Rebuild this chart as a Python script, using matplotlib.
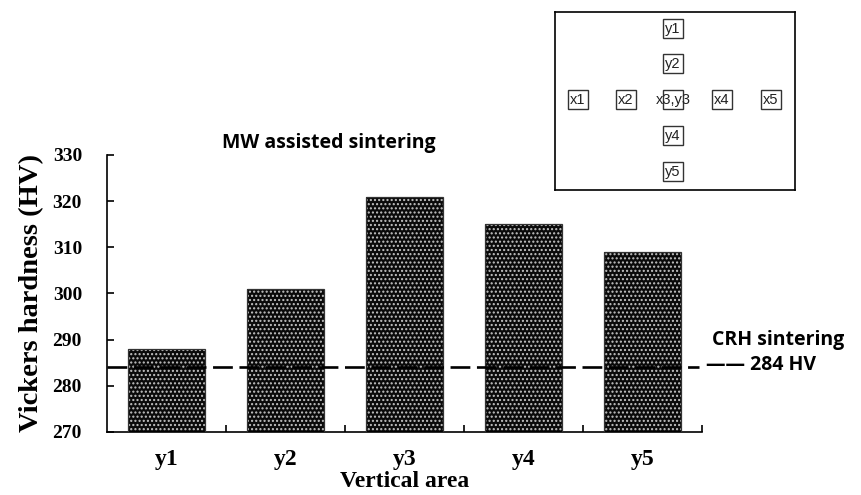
import matplotlib.pyplot as plt
from matplotlib.patches import Rectangle

areas = ["y1", "y2", "y3", "y4", "y5"]
hardness = [288, 301, 321, 315, 309]
crh_hv = 284

inset_labels = ["y1", "y2", "x1", "x2", "x3,y3", "x4", "x5", "y4", "y5"]
inset_x = [118, 118, 23, 71, 118, 167, 216, 118, 118]
inset_y = [17, 52, 88, 88, 88, 88, 88, 124, 160]

SERIF = "Liberation Serif"
SANS = ["Open Sans", "DejaVu Sans"]


def main():
    fig = plt.figure(figsize=(8.62, 4.95), dpi=100)
    ax = fig.add_axes([0.1241, 0.1273, 0.6903, 0.5596])

    pos = list(range(len(areas)))
    ax.bar(pos, hardness, width=0.64, bottom=0, color="#0a0a0a",
           hatch="....", edgecolor="#c4c4c4", linewidth=0, zorder=2)
    ax.bar(pos, hardness, width=0.64, fill=False, edgecolor="#333333",
           linewidth=0.9, zorder=3)

    ax.axhline(crh_hv, xmin=0, xmax=0.995, color="black", linewidth=1.9,
               dashes=(7.5, 2.5), zorder=4)

    ax.set_xlim(-0.5, 4.5)
    ax.set_ylim(270, 330)
    ax.set_yticks(range(270, 331, 10))
    ax.set_xticks(pos)
    ax.set_xticklabels(areas)
    ax.set_xticks([p + 0.5 for p in pos], minor=True)
    ax.tick_params(axis="x", which="major", length=0, pad=12)
    ax.tick_params(axis="x", which="minor", direction="in", length=5, width=1.2)
    ax.tick_params(axis="y", direction="in", length=5, width=1.2, pad=18)
    for lab in ax.get_xticklabels():
        lab.set_fontfamily(SERIF)
        lab.set_fontweight("bold")
        lab.set_fontsize(17)
    for lab in ax.get_yticklabels():
        lab.set_fontfamily(SERIF)
        lab.set_fontweight("bold")
        lab.set_fontsize(14)

    for side in ("top", "right"):
        ax.spines[side].set_visible(False)
    for side in ("left", "bottom"):
        ax.spines[side].set_linewidth(1.2)

    ax.set_ylabel("Vickers hardness (HV)", fontfamily=SERIF, fontweight="bold",
                  fontsize=20.5, labelpad=6)
    ax.set_xlabel("Vertical area", fontfamily=SERIF, fontweight="bold",
                  fontsize=17, labelpad=1)

    fig.text(0.382, 0.711, "MW assisted sintering", family=SANS,
             fontweight="bold", fontsize=14, ha="center", va="center")
    fig.text(0.826, 0.313, "CRH sintering", family=SANS,
             fontweight="bold", fontsize=14, ha="left", va="center")
    fig.text(0.819, 0.263, "—— 284 HV", family=SANS,
             fontweight="bold", fontsize=14, ha="left", va="center")

    inset = fig.add_axes([0.6439, 0.6162, 0.2784, 0.3596])
    inset.set_xlim(0, 240)
    inset.set_ylim(178, 0)
    inset.set_xticks([])
    inset.set_yticks([])
    for sp in inset.spines.values():
        sp.set_linewidth(1.2)
    for lab, x, y in zip(inset_labels, inset_x, inset_y):
        inset.add_patch(Rectangle((x - 10, y - 9.5), 20, 19, fill=False,
                                  edgecolor="#333333", linewidth=1))
        inset.text(x, y, lab, family="Liberation Sans", fontsize=10.5,
                   ha="center", va="center", color="#222222")

    fig.savefig("out.png", dpi=100, facecolor="white")
    plt.close(fig)


if __name__ == "__main__":
    main()
